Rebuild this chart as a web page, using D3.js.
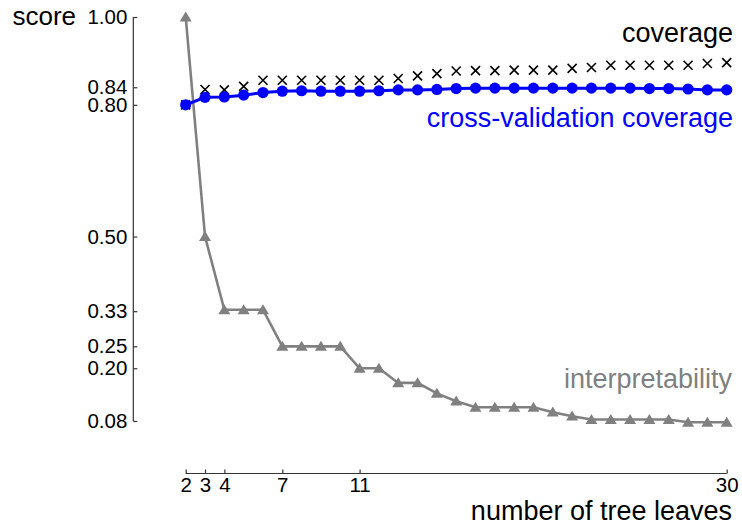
<!DOCTYPE html>
<html>
<head>
<meta charset="utf-8">
<script src="https://cdn.jsdelivr.net/npm/d3@7"></script>
<style>
  html, body { margin: 0; padding: 0; background: #fff; }
  svg { display: block; font-family: "Liberation Sans", Arial, Helvetica, sans-serif; }
</style>
</head>
<body>
<svg id="chart" width="742" height="528"></svg>
<script>
// Number of tree leaves (x) for every fitted tree
const leaves = d3.range(2, 31);

// Training-set coverage per tree size
const coverage = [0.800, 0.835, 0.834, 0.842, 0.856, 0.856, 0.856, 0.856, 0.856, 0.856, 0.856,
  0.860, 0.866, 0.871, 0.877, 0.878, 0.878, 0.879, 0.879, 0.879, 0.883, 0.885, 0.890, 0.890,
  0.890, 0.890, 0.890, 0.894, 0.896];

// Cross-validated coverage per tree size
const cvCoverage = [0.800, 0.817, 0.818, 0.822, 0.828, 0.831, 0.832, 0.831, 0.831, 0.831, 0.832,
  0.834, 0.834, 0.835, 0.837, 0.838, 0.838, 0.838, 0.838, 0.838, 0.838, 0.838, 0.838, 0.838,
  0.837, 0.837, 0.836, 0.834, 0.834];

// Interpretability score (reciprocal of the number of distinct rules used)
const interpDenominators = [1, 2, 3, 3, 3, 4, 4, 4, 4, 5, 5, 6, 6, 7, 8, 9, 9, 9, 9, 10, 11,
  12, 12, 12, 12, 12, 13, 13, 13];
const interpretability = interpDenominators.map(d => 1 / d);

const xTicks = [2, 3, 4, 7, 11, 30];
const yTicks = [0.08, 0.20, 0.25, 0.33, 0.50, 0.80, 0.84, 1.00];

const svg = d3.select("#chart");

const x = d3.scaleLinear().domain([2, 30]).range([185.7, 726.7]);
const y = d3.scaleLinear().domain([0, 1]).range([456.1, 17]);

const axisColor = "#333";
const yAxisX = 133.3;
const xAxisY = 473.5;

// y axis: range frame spanning the tick extent only
const yAxis = svg.append("g")
  .attr("transform", `translate(${yAxisX},0)`)
  .call(d3.axisLeft(y).tickValues(yTicks).tickFormat(d3.format(".2f"))
    .tickSize(-4).tickPadding(6));
yAxis.select(".domain").remove();
yAxis.append("line")
  .attr("y1", y(d3.min(yTicks))).attr("y2", y(d3.max(yTicks)))
  .attr("stroke", axisColor).attr("stroke-width", 1.2);
yAxis.selectAll(".tick line").attr("stroke", axisColor).attr("stroke-width", 1.2);
yAxis.selectAll(".tick text").attr("fill", "#000").style("font-size", "20.5px")
  .attr("font-family", "Liberation Sans, Arial, sans-serif");

// x axis
const xAxis = svg.append("g")
  .attr("transform", `translate(0,${xAxisY})`)
  .call(d3.axisBottom(x).tickValues(xTicks).tickFormat(d3.format("d"))
    .tickSize(-4).tickPadding(4));
xAxis.select(".domain").remove();
xAxis.append("line")
  .attr("x1", x(d3.min(xTicks))).attr("x2", x(d3.max(xTicks)))
  .attr("stroke", axisColor).attr("stroke-width", 1.2);
xAxis.selectAll(".tick line").attr("stroke", axisColor).attr("stroke-width", 1.2);
xAxis.selectAll(".tick text").attr("fill", "#000").style("font-size", "20.5px")
  .attr("font-family", "Liberation Sans, Arial, sans-serif");

const line = d3.line().x(d => x(d[0])).y(d => y(d[1]));

// interpretability: grey line with triangle markers
const interpPts = leaves.map((n, i) => [n, interpretability[i]]);
svg.append("path").datum(interpPts)
  .attr("d", line).attr("fill", "none")
  .attr("stroke", "#808080").attr("stroke-width", 2.6);
svg.append("g").selectAll("path").data(interpPts).join("path")
  .attr("transform", d => `translate(${x(d[0])},${y(d[1])})`)
  .attr("d", "M0,-5.6L6,4.4L-6,4.4Z")
  .attr("fill", "#808080");

// coverage: black crosses only
const covPts = leaves.map((n, i) => [n, coverage[i]]);
svg.append("g").selectAll("path").data(covPts).join("path")
  .attr("transform", d => `translate(${x(d[0])},${y(d[1])})`)
  .attr("d", "M-4.5,-4.5L4.5,4.5M4.5,-4.5L-4.5,4.5")
  .attr("stroke", "#000").attr("stroke-width", 1.6).attr("fill", "none");

// cross-validation coverage: blue line with dots
const cvPts = leaves.map((n, i) => [n, cvCoverage[i]]);
svg.append("path").datum(cvPts)
  .attr("d", line).attr("fill", "none")
  .attr("stroke", "#0000ff").attr("stroke-width", 3);
svg.append("g").selectAll("circle").data(cvPts).join("circle")
  .attr("cx", d => x(d[0])).attr("cy", d => y(d[1])).attr("r", 5.6)
  .attr("fill", "#0000ff");

// text labels
const labelSize = "27px";
svg.append("text").attr("x", 76).attr("y", 25).attr("text-anchor", "end").text("score")
  .style("font-size", "26px").attr("fill", "#000");
svg.append("text").attr("x", 733).attr("y", 42).attr("text-anchor", "end")
  .text("coverage").style("font-size", labelSize).attr("fill", "#000");
svg.append("text").attr("x", 733).attr("y", 127).attr("text-anchor", "end")
  .text("cross-validation coverage").style("font-size", labelSize).attr("fill", "#0000ff");
svg.append("text").attr("x", 732).attr("y", 388).attr("text-anchor", "end")
  .text("interpretability").style("font-size", labelSize).attr("fill", "#808080");
svg.append("text").attr("x", 732).attr("y", 520).attr("text-anchor", "end")
  .text("number of tree leaves").style("font-size", labelSize).attr("fill", "#000");
</script>
</body>
</html>
